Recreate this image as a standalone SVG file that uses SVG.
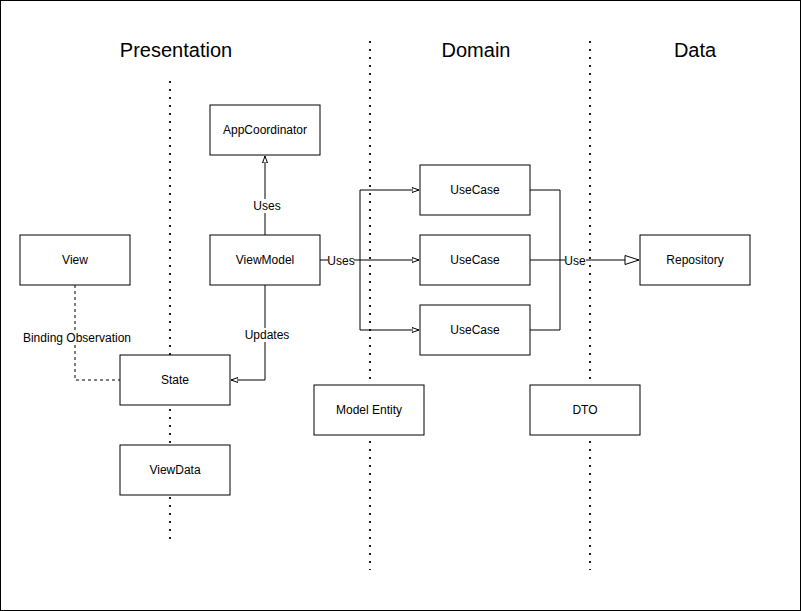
<svg xmlns="http://www.w3.org/2000/svg" width="801" height="611" viewBox="0 0 801 611">
<style>
.box{fill:#fff;stroke:#000;stroke-width:1}
.t{font-family:"Liberation Sans",Arial,sans-serif;font-size:12px;fill:#000;text-anchor:middle;dominant-baseline:central}
.h{font-family:"Liberation Sans",Arial,sans-serif;font-size:20px;fill:#000;text-anchor:middle;dominant-baseline:central}
.dot{stroke:#222;stroke-width:2;stroke-dasharray:2 6;fill:none}
.c{stroke:#000;stroke-width:1;fill:none}
.d{stroke:#000;stroke-width:1;fill:none;stroke-dasharray:3 3}
.lbl{fill:#fff}
</style>
<defs>
<marker id="tri" markerWidth="8" markerHeight="8" refX="7" refY="3" orient="auto" markerUnits="userSpaceOnUse">
<path d="M0,0.5 L7,3 L0,5.5 Z" fill="#fff" stroke="#000" stroke-width="1"/>
</marker>
<marker id="big" markerWidth="16" markerHeight="12" refX="15" refY="6" orient="auto" markerUnits="userSpaceOnUse">
<path d="M1,1.5 L15,6 L1,10.5 Z" fill="#fff" stroke="#000" stroke-width="1"/>
</marker>
</defs>
<rect x="0.5" y="0.5" width="800" height="610" fill="#fff" stroke="#000" stroke-width="1"/>
<g id="dividers">
<line class="dot" x1="170" y1="81" x2="170" y2="542"/>
<line class="dot" x1="370" y1="41" x2="370" y2="570"/>
<line class="dot" x1="590" y1="41" x2="590" y2="570"/>
</g>
<g id="titles">
<text class="h" x="176" y="50">Presentation</text>
<text class="h" x="476" y="50">Domain</text>
<text class="h" x="695" y="50">Data</text>
</g>
<g id="connectors">
<path class="c" d="M265,235 L265,156" marker-end="url(#tri)"/>
<rect class="lbl" x="253" y="199" width="26" height="14"/>
<text class="t" x="267" y="206">Uses</text>
<path class="c" d="M265,285 L265,380 L231,380" marker-end="url(#tri)"/>
<rect class="lbl" x="245" y="328" width="44" height="14"/>
<text class="t" x="267" y="335">Updates</text>
<path class="d" d="M75,285 L75,380 L120,380"/>
<rect class="lbl" x="25" y="331" width="104" height="14"/>
<text class="t" x="77" y="338">Binding Observation</text>
<path class="c" d="M320,260 L419,260" marker-end="url(#tri)"/>
<path class="c" d="M360,260 L360,190 L419,190" marker-end="url(#tri)"/>
<path class="c" d="M360,260 L360,330 L419,330" marker-end="url(#tri)"/>
<rect class="lbl" x="328" y="254" width="26" height="14"/>
<text class="t" x="341" y="261">Uses</text>
<path class="c" d="M530,190 L560,190 L560,330 L530,330"/>
<path class="c" d="M530,260 L639,260" marker-end="url(#big)"/>
<rect class="lbl" x="565" y="254" width="21" height="14"/>
<text class="t" x="575" y="261">Use</text>
</g>
<g id="appcoordinator"><rect class="box" x="210" y="105" width="110" height="50"/><text class="t" x="265" y="130">AppCoordinator</text></g>
<g id="view"><rect class="box" x="20" y="235" width="110" height="50"/><text class="t" x="75" y="260">View</text></g>
<g id="viewmodel"><rect class="box" x="210" y="235" width="110" height="50"/><text class="t" x="265" y="260">ViewModel</text></g>
<g id="state"><rect class="box" x="120" y="355" width="110" height="50"/><text class="t" x="175" y="380">State</text></g>
<g id="viewdata"><rect class="box" x="120" y="445" width="110" height="50"/><text class="t" x="175" y="470">ViewData</text></g>
<g id="usecase1"><rect class="box" x="420" y="165" width="110" height="50"/><text class="t" x="475" y="190">UseCase</text></g>
<g id="usecase2"><rect class="box" x="420" y="235" width="110" height="50"/><text class="t" x="475" y="260">UseCase</text></g>
<g id="usecase3"><rect class="box" x="420" y="305" width="110" height="50"/><text class="t" x="475" y="330">UseCase</text></g>
<g id="repository"><rect class="box" x="640" y="235" width="110" height="50"/><text class="t" x="695" y="260">Repository</text></g>
<g id="modelentity"><rect class="box" x="314" y="385" width="110" height="50"/><text class="t" x="369" y="410">Model Entity</text></g>
<g id="dto"><rect class="box" x="530" y="385" width="110" height="50"/><text class="t" x="585" y="410">DTO</text></g>
</svg>
